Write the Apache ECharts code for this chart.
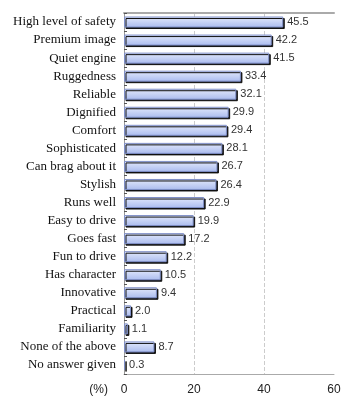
<!DOCTYPE html>
<html>
<head>
<meta charset="utf-8">
<script src="https://cdn.jsdelivr.net/npm/echarts@6/dist/echarts.min.js"></script>
<style>
  html, body { margin: 0; padding: 0; background: #fff; }
  #chart { width: 354px; height: 414px; }
</style>
</head>
<body>
<div id="chart"></div>
<script>
var categories = [
  'High level of safety', 'Premium image', 'Quiet engine', 'Ruggedness',
  'Reliable', 'Dignified', 'Comfort', 'Sophisticated', 'Can brag about it',
  'Stylish', 'Runs well', 'Easy to drive', 'Goes fast', 'Fun to drive',
  'Has character', 'Innovative', 'Practical', 'Familiarity',
  'None of the above', 'No answer given'
];
var values = [45.5, 42.2, 41.5, 33.4, 32.1, 29.9, 29.4, 28.1, 26.7, 26.4,
  22.9, 19.9, 17.2, 12.2, 10.5, 9.4, 2.0, 1.1, 8.7, 0.3];
var xTicks = [0, 20, 40, 60];

var chart = echarts.init(document.getElementById('chart'));
var option = {
  animation: false,
  grid: { left: 124, right: 20, top: 13, bottom: 40 },
  xAxis: [{
    type: 'value',
    min: xTicks[0],
    max: xTicks[xTicks.length - 1],
    interval: 20,
    name: '(%)',
    nameLocation: 'start',
    nameGap: 16,
    nameTextStyle: { color: '#222', fontFamily: 'Liberation Sans', fontSize: 12,
      verticalAlign: 'top', padding: [10, 0, 0, 0] },
    axisLine: { show: true, lineStyle: { color: '#aaa', width: 1 } },
    axisTick: { show: false },
    axisLabel: { color: '#222', fontFamily: 'Liberation Sans', fontSize: 12, margin: 10 },
    splitLine: { show: true, showMinLine: false, showMaxLine: false,
      lineStyle: { color: '#ccc', type: 'dashed', width: 1 } }
  }, {
    type: 'value',
    position: 'top',
    min: 0, max: 60,
    axisLine: { show: true, lineStyle: { color: '#aaa', width: 2 } },
    axisTick: { show: false },
    axisLabel: { show: false },
    splitLine: { show: false }
  }],
  yAxis: [{
    type: 'category',
    data: categories,
    inverse: true,
    axisLine: { show: false },
    axisTick: { show: true, inside: true, length: 3, lineStyle: { color: '#555' } },
    axisLabel: { color: '#111', fontFamily: 'Liberation Serif', fontSize: 13, margin: 8 },
    splitLine: { show: false }
  }, {
    type: 'category',
    data: categories,
    position: 'right',
    inverse: true,
    axisLine: { show: true, lineStyle: { color: '#999', width: 1 } },
    axisTick: { show: false },
    axisLabel: { show: false }
  }],
  series: [{
    type: 'bar',
    data: values,
    barWidth: 11,
    itemStyle: {
      color: new echarts.graphic.LinearGradient(0, 0, 0, 1, [
        { offset: 0, color: '#e4eafc' },
        { offset: 1, color: '#aabbee' }
      ]),
      borderColor: '#7f8fc8',
      borderWidth: 1,
      shadowColor: '#111',
      shadowOffsetX: 1.5,
      shadowOffsetY: 1.5,
      shadowBlur: 0
    },
    label: {
      show: true,
      position: 'right',
      distance: 4,
      color: '#333',
      fontFamily: 'Liberation Sans',
      fontSize: 11,
      formatter: function (p) { return p.value.toFixed(1); }
    }
  }]
};
chart.setOption(option);
</script>
</body>
</html>
